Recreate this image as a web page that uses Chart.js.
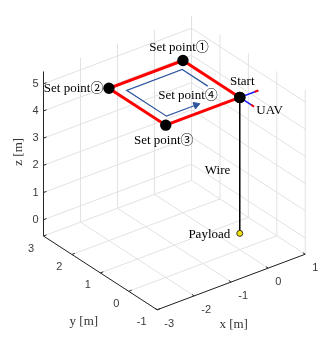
<!DOCTYPE html>
<html>
<head>
<meta charset="utf-8">
<script src="https://cdn.jsdelivr.net/npm/chart.js@4.4.1/dist/chart.umd.min.js"></script>
<style>
  html, body { margin: 0; padding: 0; background: #fff; }
  #wrap { width: 321px; height: 339px; }
</style>
</head>
<body>
<div id="wrap"><canvas id="chart"></canvas></div>
<script>
// axes: ticks and limits (metres)
const xTicks = [-3, -2, -1, 0, 1];
const yTicks = [-1, 0, 1, 2, 3];
const zTicks = [0, 1, 2, 3, 4, 5];
const xLim = [-3, 1];
const yLim = [-1, 3];
const zLim = [-0.6, 5.45];

// set points of the flight path (start -> 1 -> 2 -> 3 -> start)
const pathX = [0, 0, -2, -2, 0];
const pathY = [0, 2, 2, 0, 0];
const pathZ = [5, 5, 5, 5, 5];

// blue arrow showing the flight direction
const arrowX = [-0.25, -0.25, -1.75, -1.75, -0.95];
const arrowY = [0.8, 1.7, 1.7, 0.3, 0.3];
const arrowZ = [5, 5, 5, 5, 5];

// payload hanging under the UAV
const payloadX = [0];
const payloadY = [0];
const payloadZ = [0];
const uavArm = 0.5;

// oblique view of the 3d box onto the canvas
const W = 321, H = 339;
const view = { ox: 243.5, oy: 236.2, ex: [38.75, -14.5], ey: [-29.75, -19.25], ez: [0, -28.4] };

function proj(x, y, z) {
  return {
    x: view.ox + x * view.ex[0] + y * view.ey[0] + z * view.ez[0],
    y: view.oy + x * view.ex[1] + y * view.ey[1] + z * view.ez[1]
  };
}

const layers = []; // pushed back-to-front

function line(a, b, color, width) {
  layers.push({
    data: [proj(...a), proj(...b)],
    showLine: true, borderColor: color, borderWidth: width,
    pointRadius: 0, clip: false
  });
}

// grid on the floor and the two back walls
const gridCol = '#e2e2e2';
xTicks.forEach(x => {
  line([x, yLim[0], zLim[0]], [x, yLim[1], zLim[0]], gridCol, 1);
  line([x, yLim[1], zLim[0]], [x, yLim[1], zLim[1]], gridCol, 1);
});
yTicks.forEach(y => {
  line([xLim[0], y, zLim[0]], [xLim[1], y, zLim[0]], gridCol, 1);
  line([xLim[1], y, zLim[0]], [xLim[1], y, zLim[1]], gridCol, 1);
});
zTicks.forEach(z => {
  line([xLim[0], yLim[1], z], [xLim[1], yLim[1], z], gridCol, 1);
  line([xLim[1], yLim[0], z], [xLim[1], yLim[1], z], gridCol, 1);
});

// axis lines and tick marks
const axCol = '#262626';
line([xLim[0], yLim[0], zLim[0]], [xLim[1], yLim[0], zLim[0]], axCol, 1);
line([xLim[0], yLim[0], zLim[0]], [xLim[0], yLim[1], zLim[0]], axCol, 1);
line([xLim[0], yLim[1], zLim[0]], [xLim[0], yLim[1], zLim[1]], axCol, 1);
xTicks.forEach(x => line([x, yLim[0], zLim[0]], [x, yLim[0] + 0.08, zLim[0]], axCol, 1));
yTicks.forEach(y => line([xLim[0], y, zLim[0]], [xLim[0] + 0.08, y, zLim[0]], axCol, 1));
zTicks.forEach(z => line([xLim[0], yLim[1], z], [xLim[0] + 0.08, yLim[1], z], axCol, 1));

// wire from UAV to payload
line([pathX[0], pathY[0], pathZ[0]], [payloadX[0], payloadY[0], payloadZ[0]], '#000', 1.5);

// UAV arms with red tips
line([-uavArm, 0, pathZ[0]], [uavArm, 0, pathZ[0]], '#1a1aff', 1.5);
line([0, -uavArm, pathZ[0]], [0, uavArm, pathZ[0]], '#1a1aff', 1.5);
line([uavArm * 0.8, 0, pathZ[0]], [uavArm, 0, pathZ[0]], '#ff0000', 2);
line([0, -uavArm * 0.8, pathZ[0]], [0, -uavArm, pathZ[0]], '#ff0000', 2);

// blue direction arrow
const arrowPts = arrowX.map((x, i) => proj(x, arrowY[i], arrowZ[i]));
layers.push({
  data: arrowPts, showLine: true, borderColor: '#2f55a0', borderWidth: 1.2,
  pointRadius: 0, clip: false
});
const tip = arrowPts[arrowPts.length - 1], pre = arrowPts[arrowPts.length - 2];
const tipRot = Math.atan2(tip.x - pre.x, -(tip.y - pre.y)) * 180 / Math.PI;
layers.push({
  data: [tip], pointStyle: 'triangle', rotation: tipRot, pointRadius: 4,
  backgroundColor: '#2f55a0', borderColor: '#2f55a0', borderWidth: 1, clip: false
});

// red square path with black set point markers
layers.push({
  data: pathX.map((x, i) => proj(x, pathY[i], pathZ[i])),
  showLine: true, borderColor: '#ff0000', borderWidth: 3,
  pointRadius: 4.2, pointBackgroundColor: '#000', pointBorderColor: '#000',
  clip: false
});

// payload marker
layers.push({
  data: payloadX.map((x, i) => proj(x, payloadY[i], payloadZ[i])),
  pointRadius: 3, pointBackgroundColor: '#f2e200', pointBorderColor: '#333',
  pointBorderWidth: 1, clip: false
});

const serif = '13px "Liberation Serif", "Times New Roman", "Noto Sans CJK JP", serif';
const notes = [
  { text: 'Start', at: [0, 0, 5], dx: 2.5, dy: -16, align: 'center' },
  { text: 'Set point①', at: [0, 2, 5], dx: -4, dy: -13, align: 'center' },
  { text: 'Set point②', at: [-2, 2, 5], dx: -5.5, dy: 0, align: 'right' },
  { text: 'Set point③', at: [-2, 0, 5], dx: -2, dy: 15, align: 'center' },
  { text: 'Set point④', at: [0, 0, 5], dx: -22, dy: -2, align: 'right' },
  { text: 'UAV', at: [0, 0, 5], dx: 16.5, dy: 13, align: 'left' },
  { text: 'Wire', at: [0, 0, 2.5], dx: -9.5, dy: 5, align: 'right' },
  { text: 'Payload', at: [0, 0, 0], dx: -9.5, dy: 1, align: 'right' }
];

const textPlugin = {
  id: 'text3d',
  afterDatasetsDraw(chart) {
    const c = chart.ctx, sx = chart.scales.x, sy = chart.scales.y;
    const px = p => ({ x: sx.getPixelForValue(p.x), y: sy.getPixelForValue(p.y) });
    c.save();
    c.textBaseline = 'middle';

    // tick labels
    c.font = '11px "Liberation Sans", Arial, sans-serif';
    c.fillStyle = '#3a3a3a';
    c.textAlign = 'center';
    xTicks.forEach(x => {
      const p = px(proj(x, yLim[0], zLim[0]));
      c.fillText(String(x), p.x + (x < 0 ? 12 : 10), p.y + 14);
    });
    yTicks.forEach(y => {
      const p = px(proj(xLim[0], y, zLim[0]));
      c.fillText(String(y), p.x - (y < 0 ? 15.5 : 12.5), p.y + 12.5);
    });
    c.textAlign = 'right';
    zTicks.forEach(z => {
      const p = px(proj(xLim[0], yLim[1], z));
      c.fillText(String(z), p.x - 5, p.y);
    });

    // axis titles
    c.font = serif;
    c.fillStyle = '#333';
    c.textAlign = 'center';
    let p = px(proj((xLim[0] + xLim[1]) / 2, yLim[0], zLim[0]));
    c.fillText('x [m]', p.x + 2.5, p.y + 43);
    p = px(proj(xLim[0], (yLim[0] + yLim[1]) / 2, zLim[0]));
    c.fillText('y [m]', p.x - 16.5, p.y + 48.5);
    p = px(proj(xLim[0], yLim[1], (zLim[0] + zLim[1]) / 2));
    c.save();
    c.translate(p.x - 25, p.y - 2);
    c.rotate(-Math.PI / 2);
    c.fillText('z [m]', 0, 0);
    c.restore();

    // annotations
    c.fillStyle = '#000';
    notes.forEach(n => {
      const q = px(proj(...n.at));
      c.textAlign = n.align;
      c.fillText(n.text, q.x + n.dx, q.y + n.dy);
    });
    c.restore();
  }
};

new Chart(document.getElementById('chart').getContext('2d'), {
  type: 'scatter',
  data: { datasets: layers.slice().reverse() },
  options: {
    responsive: true,
    maintainAspectRatio: false,
    animation: false,
    events: [],
    layout: { padding: 0 },
    scales: {
      x: { type: 'linear', min: 0, max: W, display: false },
      y: { type: 'linear', min: 0, max: H, reverse: true, display: false }
    },
    plugins: { legend: { display: false }, tooltip: { enabled: false } }
  },
  plugins: [textPlugin]
});
</script>
</body>
</html>
